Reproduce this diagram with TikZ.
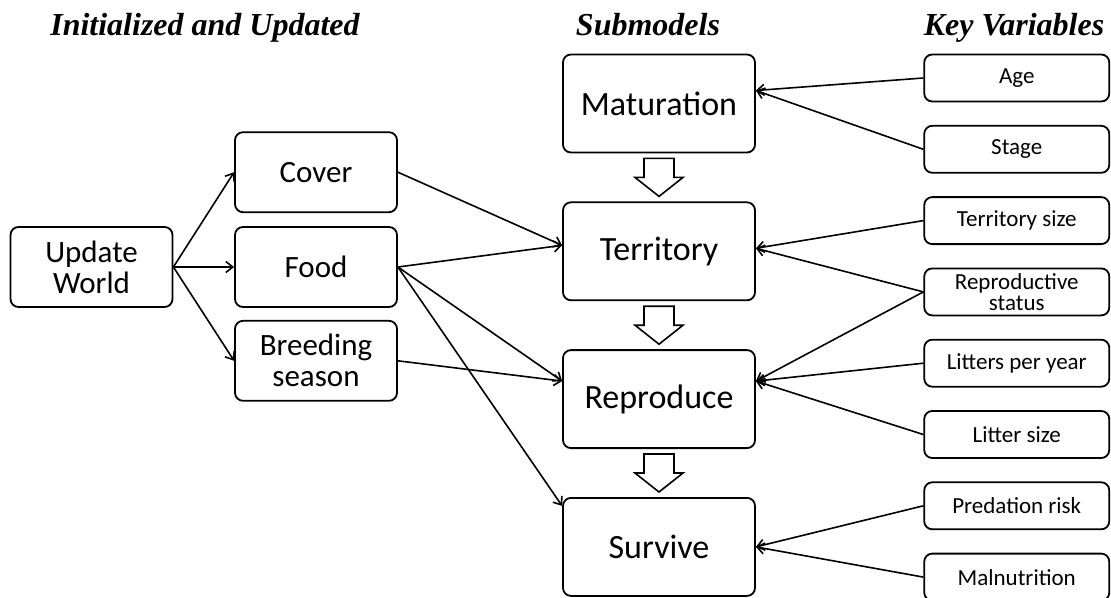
\documentclass[tikz,border=0pt]{standalone}
\usepackage{fontspec}
\setmainfont{Carlito}
\newfontfamily\headfont{Liberation Serif}
\usetikzlibrary{positioning,calc,arrows.meta}
\tikzset{
box/.style = {draw, rounded corners=8pt, align=center, line width=1.8pt, inner sep=0pt},
world/.style = {box, minimum width=162pt, minimum height=80pt, font=\fontsize{31}{31}\selectfont},
sub/.style = {box, minimum width=192pt, minimum height=98pt, font=\fontsize{34}{36}\selectfont},
var/.style = {box, minimum width=185pt, minimum height=47pt, font=\fontsize{23}{21}\selectfont},
head/.style = {anchor=base, font=\headfont\bfseries\itshape\fontsize{32}{32}\selectfont},
link/.style = {->, line width=1.6pt},
blockdown/.pic = {\draw[line width=1.6pt] (-15,-19) -- (15,-19) -- (15,0) -- (24,0) -- (0,19) -- (-24,0) -- (-15,0) -- cycle;}
}

\begin{document}
\begin{tikzpicture}[x=1pt, y=-1pt, >={Straight Barb[length=7pt,width=11pt]}]
	\useasboundingbox (0,0) rectangle (1111,597);

	% column titles
	\node[head] (hinit) at (205,35) {Initialized and Updated};
	\node[head] (hsub) at (648,35) {Submodels};
	\node[head] (hkey) at (1014,35) {Key Variables};

	% initialized and updated
	\node[world] (update) at (91.5,267) {Update\\World};
	\node[world] (food) at (316,267) {Food};
	\node[world, above=13pt of food] (cover) {Cover};
	\node[world, below=12pt of food] (breeding) {Breeding\\season};

	% submodels
	\node[sub] (maturation) at (659,103.5) {Maturation};
	\node[sub, below=48pt of maturation] (territory) {Territory};
	\node[sub, below=48pt of territory] (reproduce) {Reproduce};
	\node[sub, below=48pt of reproduce] (survive) {Survive};

	% key variables
	\node[var] (age) at (1016.75,78) {Age};
	\node[var, below=22.5pt of age] (stage) {Stage};
	\node[var, below=22.5pt of stage] (tsize) {Territory size};
	\node[var, below=22.5pt of tsize] (rstatus) {Reproductive\\status};
	\node[var, below=22.5pt of rstatus] (litters) {Litters per year};
	\node[var, below=22.5pt of litters] (lsize) {Litter size};
	\node[var, below=22.5pt of lsize] (predation) {Predation risk};
	\node[var, below=22.5pt of predation] (malnutrition) {Malnutrition};

	\pic at ($(maturation.south)!0.5!(territory.north)$) {blockdown};
	\pic at ($(territory.south)!0.5!(reproduce.north)$) {blockdown};
	\pic at ($(reproduce.south)!0.5!(survive.north)$) {blockdown};

	\draw[link] (update.east) -- (cover.west);
	\draw[link] (update.east) -- (food.west);
	\draw[link] (update.east) -- (breeding.west);
	\draw[link] (cover.east) -- ([yshift=6pt]territory.west);
	\draw[link] (food.east) -- ([yshift=6pt]territory.west);
	\draw[link] (food.east) -- ([yshift=18pt]reproduce.west);
	\draw[link] (breeding.east) -- ([yshift=18pt]reproduce.west);
	\draw[link] (food.east) -- ([yshift=41pt]survive.west);

	\draw[link] (age.west) -- ([yshift=13pt]maturation.east);
	\draw[link] (stage.west) -- ([yshift=13pt]maturation.east);
	\draw[link] (tsize.west) -- ([yshift=3pt]territory.east);
	\draw[link] (rstatus.west) -- ([yshift=3pt]territory.east);
	\draw[link] (rstatus.west) -- ([yshift=18pt]reproduce.east);
	\draw[link] (litters.west) -- ([yshift=18pt]reproduce.east);
	\draw[link] (lsize.west) -- ([yshift=18pt]reproduce.east);
	\draw[link] (predation.west) -- (survive.east);
	\draw[link] (malnutrition.west) -- (survive.east);

\end{tikzpicture}
\end{document}
